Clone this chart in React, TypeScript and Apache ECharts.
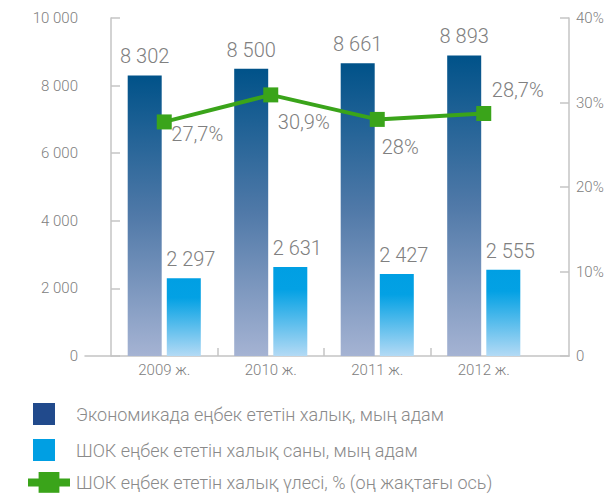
import React, { useEffect, useRef } from "react";
import * as echarts from "echarts";

const years = ["2009 ж.", "2010 ж.", "2011 ж.", "2012 ж."];
const employedTotal = [8302, 8500, 8661, 8893];
const employedSme = [2297, 2631, 2427, 2555];
const smeShare = [27.7, 30.9, 28, 28.7];
const leftTicks = { min: 0, max: 10000, interval: 2000 };
const rightTicks = { min: 0, max: 40, interval: 10 };

const seriesNames = [
  "Экономикада еңбек ететін халық, мың адам",
  "ШОК еңбек ететін халық саны, мың адам",
  "ШОК еңбек ететін халық үлесі, % (оң жақтағы ось)",
];

const FONT = "Roboto, 'Noto Sans', sans-serif";
const GREY = "#808080";
const AXIS = "#c4c4c4";

const fmtThousands = (v: number) =>
  String(v).replace(/\B(?=(\d{3})+(?!\d))/g, " ");
const fmtPct = (v: number) => String(v).replace(".", ",") + "%";

// label offsets for the share line (relative to the marker)
const shareLabelOffsets = [
  [33, 12],
  [33, 27],
  [23, 28],
  [34, -23],
];

export default function App() {
  const ref = useRef<HTMLDivElement>(null);
  useEffect(() => {
    document.body.style.margin = "0";
    if (!ref.current) return;
    const chart = echarts.init(ref.current, null, { renderer: "svg" });
    const hiddenY = (r: any) => ({
      type: "value",
      gridIndex: 1,
      min: r.min,
      max: r.max,
      interval: r.interval,
      show: false,
      splitLine: { show: false },
    });
    const axisText = {
      color: GREY,
      fontSize: 15,
      fontWeight: 300,
      fontFamily: FONT,
    };
    const valueText = {
      color: GREY,
      fontSize: 20,
      fontWeight: 300,
      fontFamily: FONT,
    };
    chart.setOption({
      animation: false,
      backgroundColor: "#ffffff",
      grid: [
        { left: 85, right: 46, top: 18, bottom: 143 },
        { left: 111, right: 78, top: 18, bottom: 143 },
      ],
      xAxis: [
        {
          type: "value",
          gridIndex: 0,
          min: -0.244,
          max: 4.3,
          axisLine: { show: true, lineStyle: { color: AXIS, width: 1.5 } },
          axisTick: {
            show: true,
            inside: true,
            length: 8,
            customValues: [1, 2, 3],
            lineStyle: { color: AXIS, width: 1.5 },
          },
          axisLabel: { show: false },
          splitLine: { show: false },
        },
        {
          type: "category",
          gridIndex: 1,
          data: years,
          axisLine: { show: false },
          axisTick: { show: false },
          axisLabel: { ...axisText, margin: 6 },
        },
      ],
      yAxis: [
        {
          type: "value",
          gridIndex: 0,
          position: "left",
          min: leftTicks.min,
          max: leftTicks.max,
          interval: leftTicks.interval,
          axisLine: { show: true, lineStyle: { color: AXIS, width: 1.5 } },
          axisTick: { show: true, inside: true, length: 9, lineStyle: { color: AXIS, width: 1.5 } },
          axisLabel: {
            ...axisText,
            margin: 7,
            formatter: (v: number) => fmtThousands(v),
          },
          splitLine: { show: false },
        },
        {
          type: "value",
          gridIndex: 0,
          position: "right",
          min: rightTicks.min,
          max: rightTicks.max,
          interval: rightTicks.interval,
          axisLine: { show: true, lineStyle: { color: AXIS, width: 1.5 } },
          axisTick: { show: true, inside: true, length: 9, lineStyle: { color: AXIS, width: 1.5 } },
          axisLabel: {
            ...axisText,
            margin: 7,
            formatter: (v: number) => (v === 0 ? "0" : v + "%"),
          },
          splitLine: { show: false },
        },
        hiddenY(leftTicks),
        hiddenY(rightTicks),
      ],
      legend: [
        {
          orient: "vertical",
          left: 28,
          top: 398,
          itemWidth: 22,
          itemHeight: 22,
          itemGap: 14,
          icon: "rect",
          selectedMode: false,
          data: [
            { name: seriesNames[0], itemStyle: { color: "#214a8c" } },
            { name: seriesNames[1], itemStyle: { color: "#009fe3" } },
          ],
          textStyle: {
            color: "#8a8a8a",
            fontSize: 18,
            fontWeight: 300,
            fontFamily: FONT,
            padding: [0, 0, 0, 16],
          },
        },
        {
          orient: "vertical",
          left: 19,
          top: 467,
          itemWidth: 42,
          itemHeight: 26,
          selectedMode: false,
          data: [{ name: seriesNames[2] }],
          lineStyle: { width: 8 },
          textStyle: {
            color: "#8a8a8a",
            fontSize: 18,
            fontWeight: 300,
            fontFamily: FONT,
            padding: [0, 0, 0, 1],
          },
        },
      ],
      series: [
        {
          name: seriesNames[0],
          type: "bar",
          xAxisIndex: 1,
          yAxisIndex: 2,
          barWidth: 34,
          barGap: "15%",
          data: employedTotal,
          itemStyle: {
            color: new echarts.graphic.LinearGradient(0, 0, 0, 1, [
              { offset: 0, color: "#005289" },
              { offset: 0.5, color: "#5079a8" },
              { offset: 1, color: "#a5b3d3" },
            ]),
          },
          label: {
            show: true,
            position: "top",
            distance: 9,
            ...valueText,
            formatter: (p: any) => fmtThousands(p.value),
          },
        },
        {
          name: seriesNames[1],
          type: "bar",
          xAxisIndex: 1,
          yAxisIndex: 2,
          barWidth: 34,
          data: employedSme,
          itemStyle: {
            color: new echarts.graphic.LinearGradient(0, 0, 0, 1, [
              { offset: 0, color: "#009fe3" },
              { offset: 0.25, color: "#03a1e4" },
              { offset: 1, color: "#b3daf5" },
            ]),
          },
          label: {
            show: true,
            position: "top",
            distance: 9,
            offset: [7, 0],
            ...valueText,
            formatter: (p: any) => fmtThousands(p.value),
          },
        },
        {
          name: seriesNames[2],
          type: "line",
          xAxisIndex: 1,
          yAxisIndex: 3,
          symbol: "rect",
          symbolSize: 15,
          color: "#3aa41a",
          lineStyle: { color: "#3aa41a", width: 4 },
          itemStyle: { color: "#3aa41a" },
          data: smeShare.map((v, i) => ({
            value: v,
            label: { offset: shareLabelOffsets[i] },
          })),
          label: {
            show: true,
            position: "inside",
            ...valueText,
            formatter: (p: any) => fmtPct(p.value),
          },
          z: 5,
        },
      ],
    });
    return () => chart.dispose();
  }, []);
  return <div ref={ref} style={{ width: 615, height: 499 }} />;
}
